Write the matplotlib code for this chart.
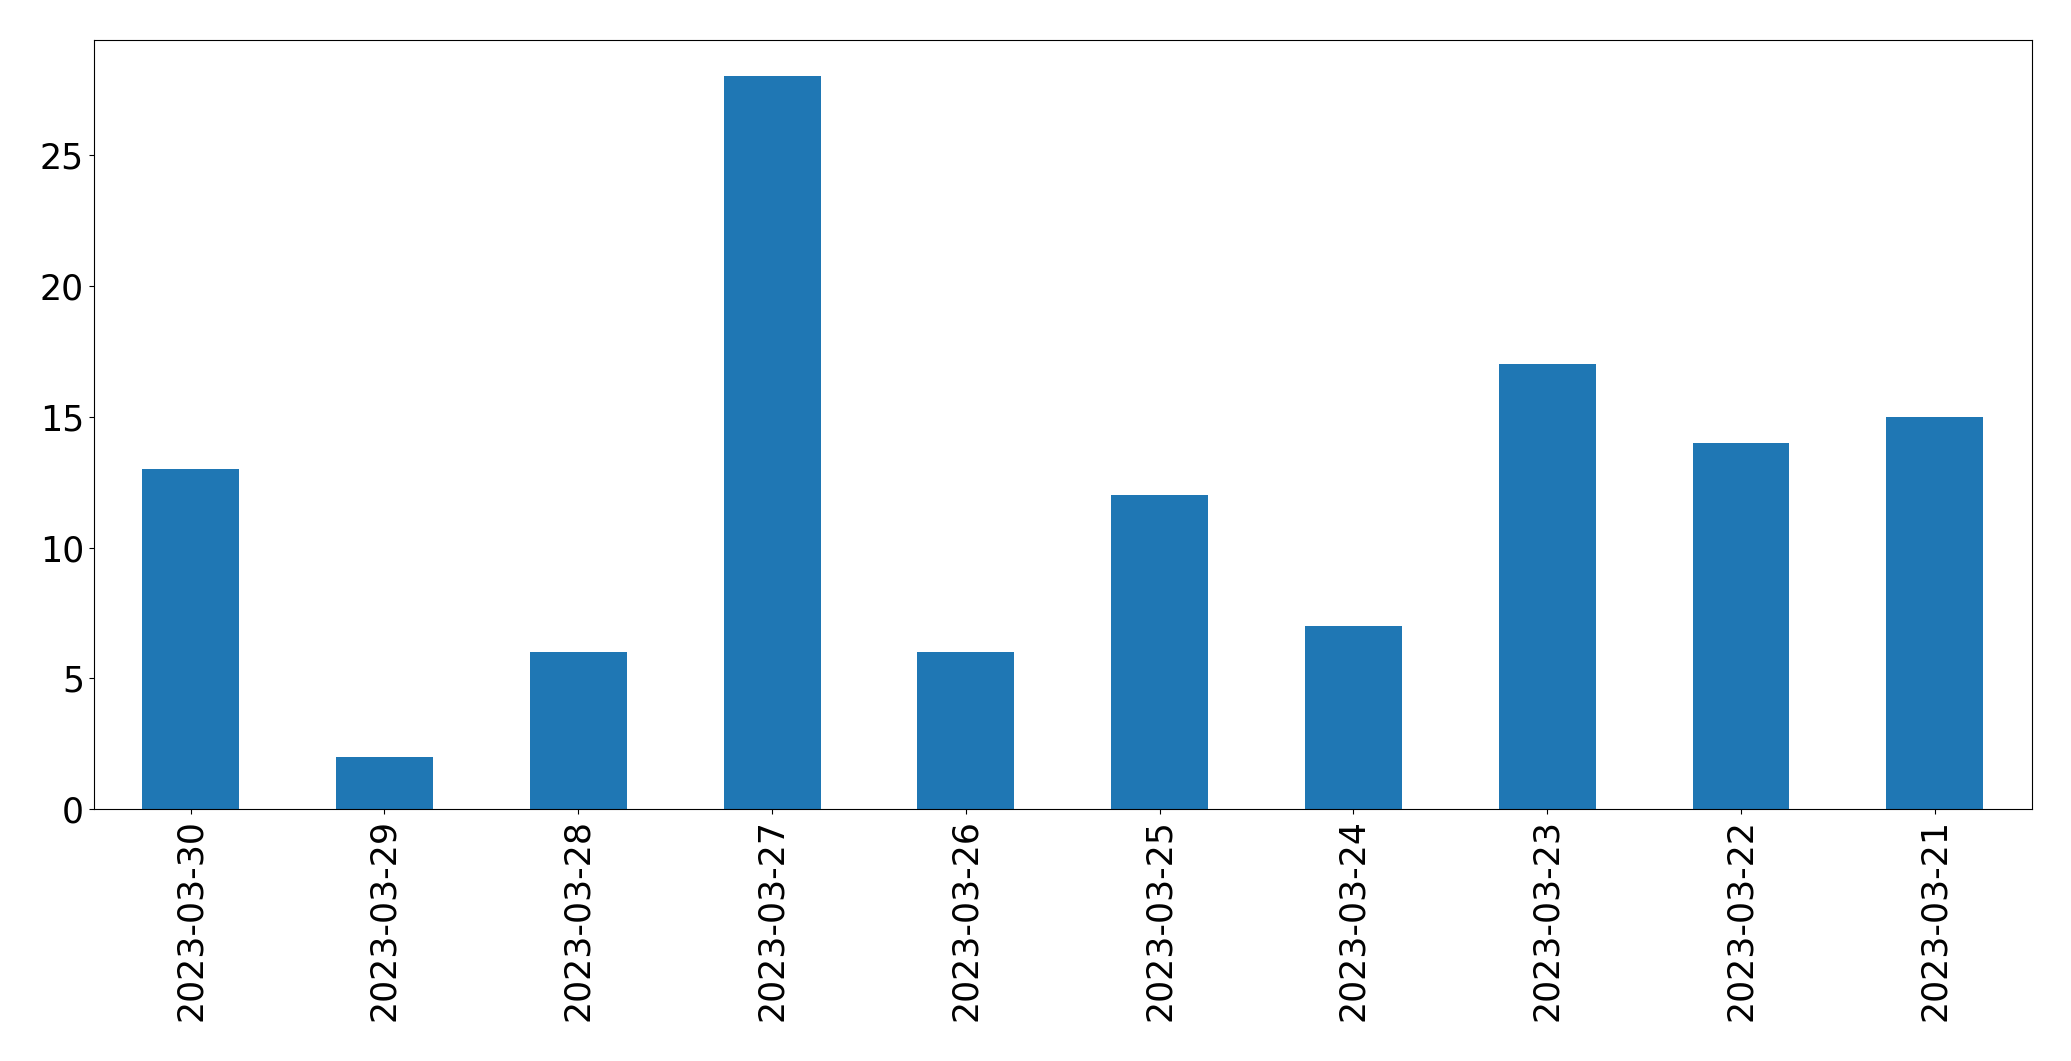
import pandas as pd
import matplotlib.pyplot as plt

dates = ['2023-03-30', '2023-03-29', '2023-03-28', '2023-03-27', '2023-03-26',
         '2023-03-25', '2023-03-24', '2023-03-23', '2023-03-22', '2023-03-21']
counts = [13, 2, 6, 28, 6, 12, 7, 17, 14, 15]

s = pd.Series(counts, index=dates)

fig = plt.figure(figsize=(20.71, 10.61), dpi=100)
ax = fig.add_axes([0.0453, 0.2372, 0.9357, 0.7255])
s.plot(kind='bar', ax=ax, color='#1f77b4')
ax.tick_params(axis='both', labelsize=25)
ax.set_ylim(0, 29.4)

fig.savefig('out.png', dpi=100)
